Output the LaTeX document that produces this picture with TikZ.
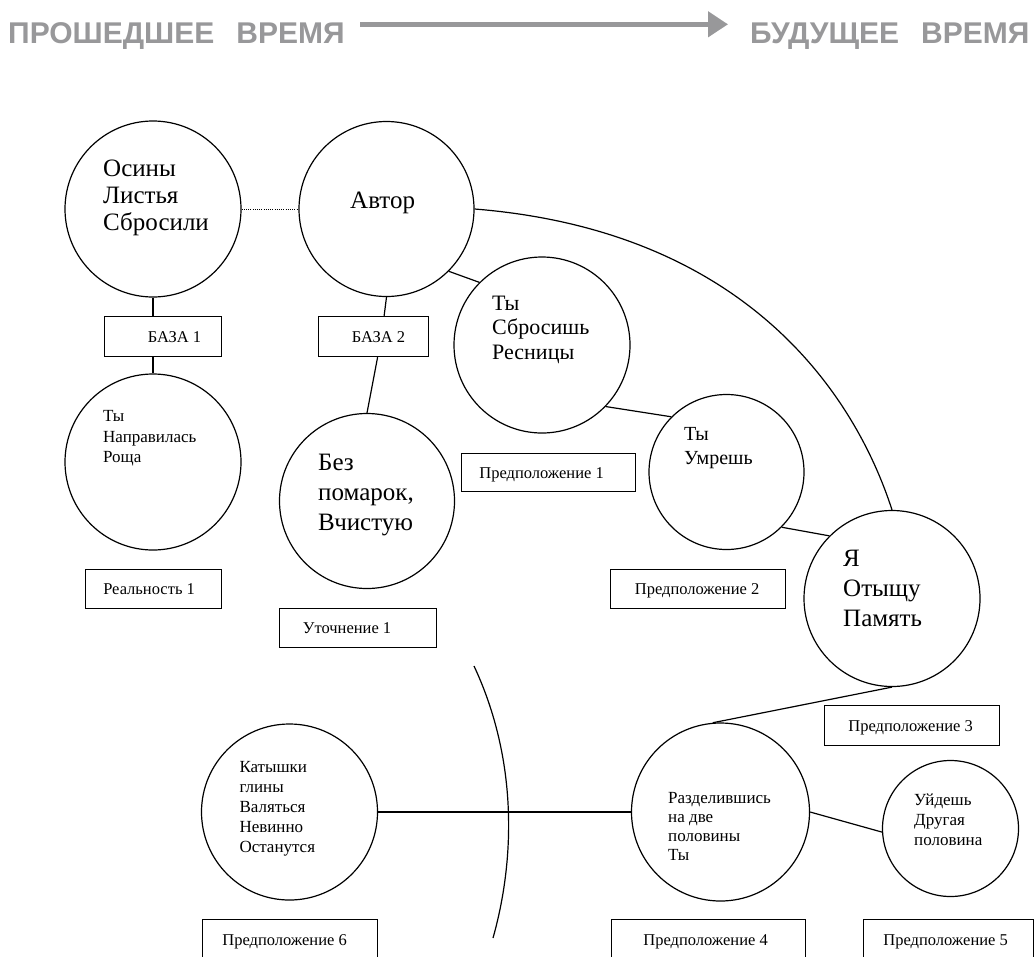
\documentclass[tikz,border=0pt]{standalone}
\usepackage{fontspec}
\setmainfont{Liberation Serif}
\newfontfamily\headfont{Liberation Sans}
\usetikzlibrary{arrows.meta}
\definecolor{timegray}{RGB}{152,152,154}

\begin{document}
\begin{tikzpicture}[x=1pt,y=-1pt,
  ring/.style={draw, circle, inner sep=0pt, line width=1.2pt},
  tag/.style={draw, rectangle, anchor=north west, inner sep=0pt, line width=1.2pt,
    font=\fontsize{16.5}{20}\selectfont, text height=11pt, text depth=0pt},
  % multi-line texts are placed by the baseline of their last line
  words/.style={anchor=base west, align=left, inner sep=0pt},
  head/.style={anchor=base west, inner sep=0pt, text=timegray,
    font=\headfont\bfseries\fontsize{30}{36}\selectfont},
  link/.style={line width=1.2pt},
]
\useasboundingbox (0,0) rectangle (1035,956);
\clip (0,0) rectangle (1035,956);

% time axis
\node[head] (past) at (8,43.3) {ПРОШЕДШЕЕ\hspace{22pt}ВРЕМЯ};
\node[head] (future) at (750,43.3) {БУДУЩЕЕ\hspace{22pt}ВРЕМЯ};
\coordinate (axis0) at (360,24.3);
\coordinate (axis1) at (728,24.3);
\draw[timegray, line width=4.5pt, -{Triangle[length=20pt,width=25pt]}] (axis0) -- (axis1);

% circles
\node[ring, minimum size=176pt] (c1)  at (153,209)     {};
\node[ring, minimum size=175pt] (c2)  at (386.5,209)   {};
\node[ring, minimum size=176pt] (c3)  at (153,462)     {};
\node[ring, minimum size=175pt] (c6)  at (367,501)     {};
\node[ring, minimum size=176pt] (c7)  at (542,345)     {};
\node[ring, minimum size=155pt] (c8)  at (726.5,472)   {};
\node[ring, minimum size=176pt] (c9)  at (892,598.5)   {};
\node[ring, minimum size=178pt] (c11) at (720.5,812)   {};
\node[ring, minimum size=136pt] (c12) at (950.5,828.5) {};
\node[ring, minimum size=176pt] (c13) at (289.5,812)   {};

% circle texts
\node[words, font=\fontsize{25}{27.3}\selectfont] (t1) at (103,230.6) {Осины\\Листья\\Сбросили};
\node[words, font=\fontsize{25}{30}\selectfont] (t2) at (350,208.3) {Автор};
\node[words, font=\fontsize{17}{20.3}\selectfont] (t3) at (103,462.3) {Ты\\Направилась\\Роща};
\node[words, font=\fontsize{25}{30}\selectfont] (t6) at (318,530) {Без\\помарок,\\Вчистую};
\node[words, font=\fontsize{22}{24.6}\selectfont] (t7) at (492,359.2) {Ты\\Сбросишь\\Ресницы};
\node[words, font=\fontsize{20}{23.5}\selectfont] (t8) at (684,464.2) {Ты\\Умрешь};
\node[words, font=\fontsize{25}{30}\selectfont] (t9) at (843,626.7) {Я\\Отыщу\\Память};
\node[words, font=\fontsize{17}{19.2}\selectfont] (t11) at (668,860.9) {Разделившись\\на две\\половины\\Ты};
\node[words, font=\fontsize{17}{20}\selectfont] (t12) at (914,845) {Уйдешь\\Другая\\половина};
\node[words, font=\fontsize{17}{20}\selectfont] (t13) at (239.3,852.7) {Катышки\\глины\\Валяться\\Невинно\\Останутся};

% labelled boxes
\node[tag, minimum width=117pt, minimum height=40pt] (b1)  at (104,316) {\hspace*{23pt}БАЗА 1};
\node[tag, minimum width=110pt, minimum height=40pt] (b2)  at (318,316) {\hspace*{10pt}БАЗА 2};
\node[tag, minimum width=136pt, minimum height=39pt] (b3)  at (85,569)  {\hspace*{-9pt}Реальность 1};
\node[tag, minimum width=157pt, minimum height=39pt] (b4)  at (279,608) {\hspace*{-22pt}Уточнение 1};
\node[tag, minimum width=174pt, minimum height=38pt] (b5)  at (461,453) {\hspace*{-14pt}Предположение 1};
\node[tag, minimum width=175pt, minimum height=39pt] (b6)  at (610,569) {\hspace*{-2pt}Предположение 2};
\node[tag, minimum width=175pt, minimum height=40pt] (b7)  at (824,705) {\hspace*{-3pt}Предположение 3};
\node[tag, minimum width=194pt, minimum height=40pt] (b8)  at (611,919) {\hspace*{-6pt}Предположение 4};
\node[tag, minimum width=170pt, minimum height=40pt] (b9)  at (863,919) {\hspace*{-6pt}Предположение 5};
\node[tag, minimum width=175pt, minimum height=40pt] (b10) at (202,919) {\hspace*{-11pt}Предположение 6};

% connectors
\draw[line width=1pt, dash pattern=on 1pt off 1.2pt] (c1.east) -- (c2.west);
\draw[link] (c1.south) -- (c1.south |- b1.north);
\draw[link] (c3.north |- b1.south) -- (c3.north);
\draw[link] (c2.south) -- (b2.63);
\draw[link] (b2.-79) -- (c6.north);
\draw[link] (c2.-45) -- (c7.135);
\draw[link] (c7.-44) -- (c8.135);
\draw[link] (c8.-45) -- (c9.135);
\draw[link] (c2.east) .. controls +(273,22) and +(-37,-114.5) .. (c9.north);
\draw[link] (c9.south) -- (c11.95);
\draw[link] (c13.east) -- (c11.west);
\draw[link] (c11.east) -- (c12.183);

% dividing line
\coordinate (s0) at (474,666);
\coordinate (s1) at (493,938);
\draw[link] (s0) .. controls +(44,94) and +(22,-78) .. (s1);
\end{tikzpicture}
\end{document}
